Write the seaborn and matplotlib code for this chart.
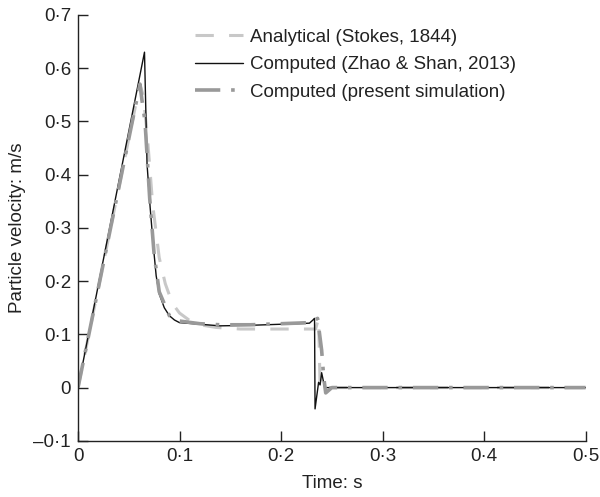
import matplotlib
matplotlib.use("Agg")
import matplotlib.pyplot as plt
import seaborn as sns
import pandas as pd
from matplotlib.ticker import FixedLocator, FixedFormatter

# ---- data ----
t_analytical = [0, 0.061, 0.064, 0.068, 0.0735, 0.080, 0.086, 0.093, 0.100, 0.110, 0.120, 0.136,
                0.160, 0.200, 0.234, 0.237, 0.2385, 0.245, 0.5]
v_analytical = [0, 0.57, 0.55, 0.48, 0.345, 0.244, 0.195, 0.158, 0.140, 0.126, 0.118, 0.113,
                0.110, 0.110, 0.110, 0.130, 0.0, 0.0, 0.0]

t_zhao = [0, 0.0655, 0.068, 0.071, 0.074, 0.077, 0.080, 0.085, 0.090, 0.095, 0.100, 0.120,
          0.140, 0.170, 0.200, 0.228, 0.232, 0.2330, 0.2335, 0.2370, 0.2385, 0.2400, 0.2430, 0.246, 0.5]
v_zhao = [0, 0.63, 0.42, 0.34, 0.27, 0.21, 0.176, 0.150, 0.135, 0.127, 0.122, 0.119,
          0.116, 0.117, 0.119, 0.121, 0.128, 0.130, -0.040, 0.010, 0.005, 0.028, 0.0, 0.0, 0.0]

t_present = [0, 0.061, 0.063, 0.066, 0.0706, 0.075, 0.080, 0.090, 0.100, 0.120, 0.140, 0.170,
             0.200, 0.228, 0.236, 0.240, 0.242, 0.244, 0.247, 0.250, 0.5]
v_present = [0, 0.57, 0.54, 0.50, 0.356, 0.25, 0.18, 0.135, 0.125, 0.120, 0.118, 0.118,
             0.120, 0.122, 0.130, 0.070, 0.020, -0.010, -0.005, 0.0, 0.0]

labels = ["Analytical (Stokes, 1844)", "Computed (Zhao & Shan, 2013)", "Computed (present simulation)"]

x_ticks = [0, 0.1, 0.2, 0.3, 0.4, 0.5]
x_ticklabels = ["0", "0·1", "0·2", "0·3", "0·4", "0·5"]
y_ticks = [-0.1, 0, 0.1, 0.2, 0.3, 0.4, 0.5, 0.6, 0.7]
y_ticklabels = ["–0·1", "0", "0·1", "0·2", "0·3", "0·4", "0·5", "0·6", "0·7"]

# ---- style ----
sns.set_style("ticks")
plt.rcParams['font.family'] = ['Liberation Sans', 'DejaVu Sans']
FS = 13.5
plt.rcParams['font.size'] = FS

fig = plt.figure(figsize=(6.0, 4.97), dpi=100)
ax = fig.add_axes([0.13, 0.113, 0.846, 0.857])

ink = "#222222"

sns.lineplot(x=t_analytical, y=v_analytical, ax=ax, color="#c8c8c8", lw=2.2,
             label=labels[0], sort=False, estimator=None)
ax.lines[-1].set_dashes([6, 5])
sns.lineplot(x=t_zhao, y=v_zhao, ax=ax, color="#111111", lw=1.0,
             label=labels[1], sort=False, estimator=None)
sns.lineplot(x=t_present, y=v_present, ax=ax, color="#999999", lw=2.6,
             label=labels[2], sort=False, estimator=None)
ax.lines[-1].set_dashes([7, 3, 1, 3])

ax.set_xlim(0, 0.5)
ax.set_ylim(-0.1, 0.7)
ax.xaxis.set_major_locator(FixedLocator(x_ticks))
ax.xaxis.set_major_formatter(FixedFormatter(x_ticklabels))
ax.yaxis.set_major_locator(FixedLocator(y_ticks))
ax.yaxis.set_major_formatter(FixedFormatter(y_ticklabels))
ax.tick_params(direction="in", length=7, width=1.0, colors=ink, labelsize=FS, pad=5)

sns.despine(ax=ax)
for s in ["left", "bottom"]:
    ax.spines[s].set_color(ink)
    ax.spines[s].set_linewidth(1.0)

ax.set_xlabel("Time: s", fontsize=FS, color=ink, labelpad=7)
ax.set_ylabel("Particle velocity: m/s", fontsize=FS, color=ink, labelpad=5)

leg = ax.legend(loc="upper left", bbox_to_anchor=(0.23, 0.968), frameon=False,
                fontsize=FS, handlelength=2.56, handletextpad=0.37, labelspacing=0.55,
                borderaxespad=0.0, borderpad=0.0)
for txt in leg.get_texts():
    txt.set_color(ink)

fig.savefig("out.png", dpi=100)
